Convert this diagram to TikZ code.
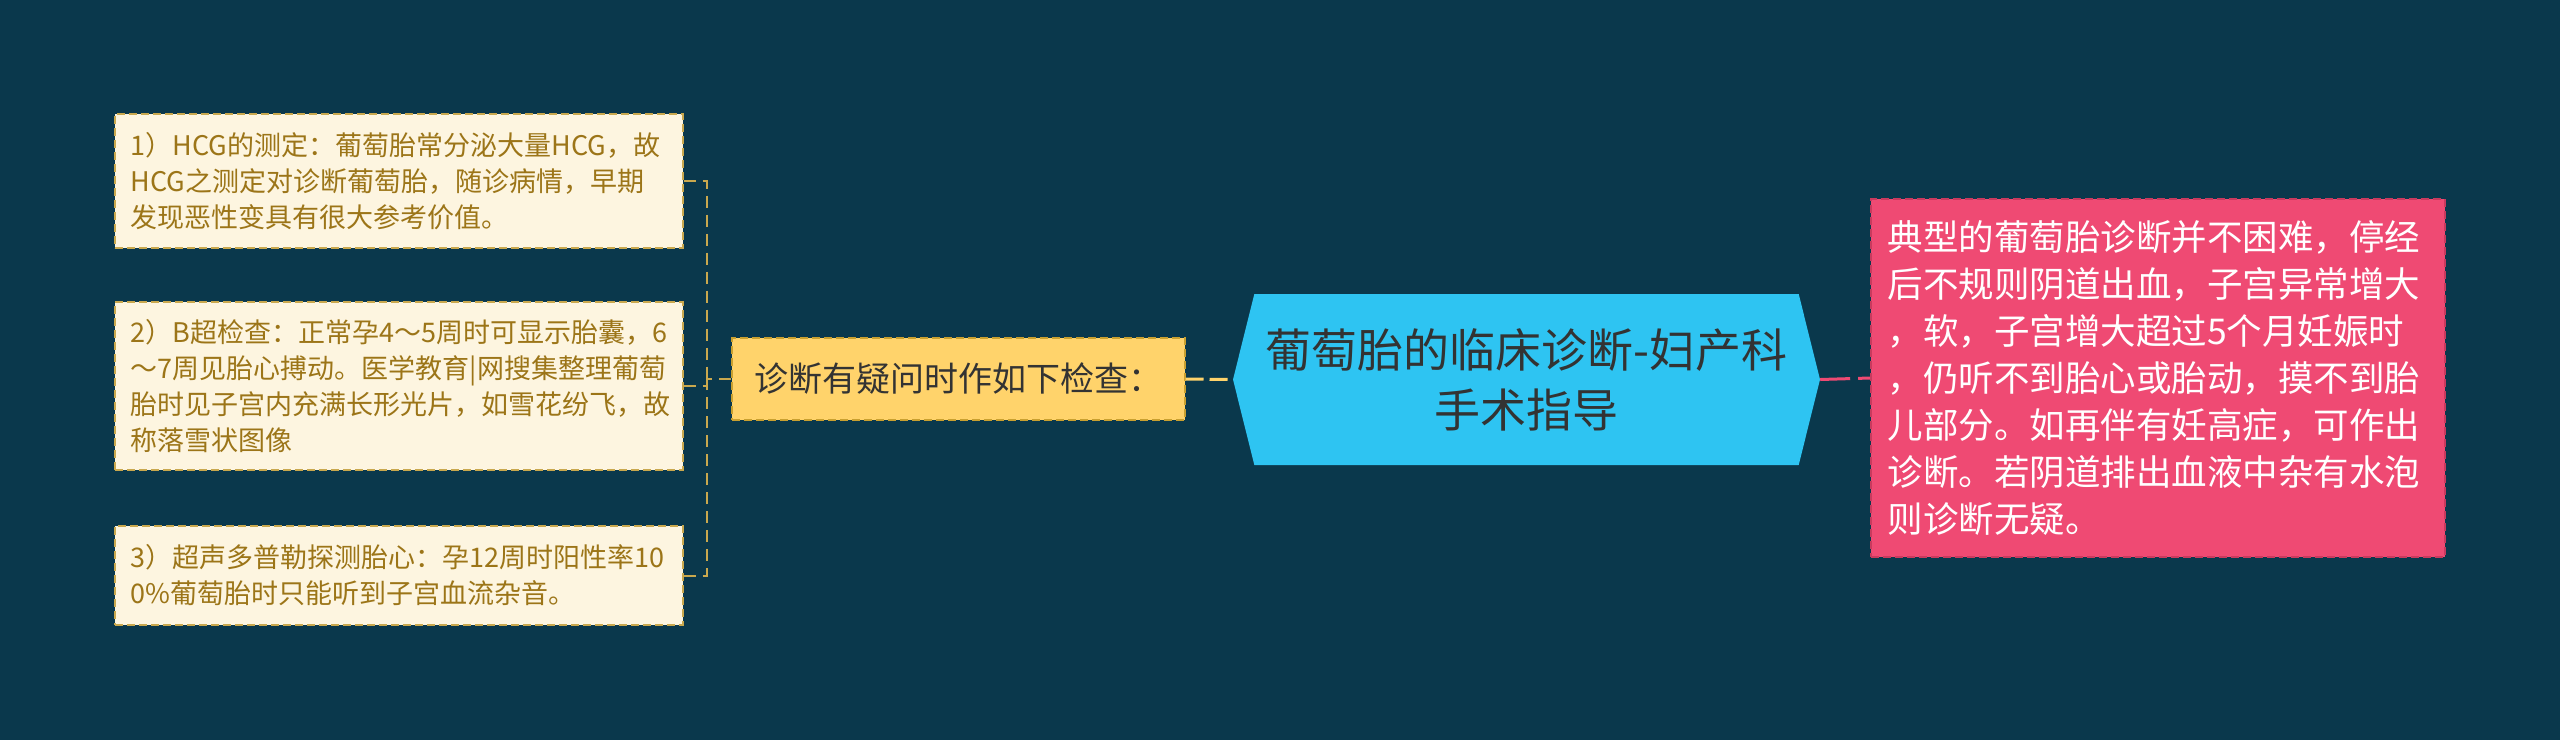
\documentclass[tikz,border=0pt]{standalone}
\usepackage{fontspec}
\setmainfont{Noto Sans CJK SC}
\usetikzlibrary{shapes.symbols}

\definecolor{bgteal}{HTML}{0A384C}
\definecolor{leaffill}{HTML}{FDF5E0}
\definecolor{leafline}{HTML}{C9A84E}
\definecolor{leaftext}{HTML}{9C7518}
\definecolor{askfill}{HTML}{FFD36B}
\definecolor{askline}{HTML}{C9A030}
\definecolor{rootfill}{HTML}{2EC4F2}
\definecolor{tipfill}{HTML}{EF4A73}
\definecolor{tipline}{HTML}{C93A5E}
\definecolor{darktext}{HTML}{333333}

\tikzset{
  leaf/.style={draw=leafline, fill=leaffill, text=leaftext, line width=1.5pt,
    dash pattern=on 8pt off 4pt, anchor=west, align=left,
    inner xsep=16pt, inner ysep=8pt, text width=536pt,
    font=\fontsize{27}{36}\selectfont},
  ask/.style={draw=askline, fill=askfill, text=darktext, line width=1.5pt,
    dash pattern=on 8pt off 4pt, anchor=west, inner sep=6pt,
    minimum width=453pt, minimum height=82pt,
    font=\fontsize{34}{44}\selectfont},
  rootbox/.style={signal, signal to=west and east, signal pointer angle=152,
    fill=rootfill, text=darktext, align=center, inner sep=8pt,
    minimum width=587pt, minimum height=171pt,
    font=\fontsize{46}{60}\selectfont},
  tipbox/.style={draw=tipline, fill=tipfill, text=white, line width=1.5pt,
    dash pattern=on 8pt off 4pt, anchor=west, align=left,
    inner xsep=17pt, inner ysep=10pt, text width=540pt, minimum height=358pt,
    font=\fontsize{35.5}{47}\selectfont},
  blink/.style={draw=leafline, line width=2pt, dash pattern=on 12pt off 7pt},
  ylink/.style={draw=askfill, line width=3pt, dash pattern=on 18pt off 6pt},
  plink/.style={draw=tipfill, line width=3pt, dash pattern=on 30pt off 8pt},
}

\begin{document}
\begin{tikzpicture}[x=1pt,y=-1pt]
  \fill[bgteal] (0,0) rectangle (2560,740);
  \useasboundingbox (0,0) rectangle (2560,740);

  % centre topic
  \path (1526.5,379.5) node[rootbox] (root) {葡萄胎的临床诊断-妇产科\\手术指导};

  % left branch
  \path (731,379) node[ask] (ask) {诊断有疑问时作如下检查：};
  \path (114,181) node[leaf, minimum height=134pt] (hcg)
    {1）HCG的测定：葡萄胎常分泌大量HCG，故\\HCG之测定对诊断葡萄胎，随诊病情，早期\\发现恶性变具有很大参考价值。};
  \path (114,386) node[leaf, minimum height=168pt] (bscan)
    {2）B超检查：正常孕4～5周时可显示胎囊，6\\～7周见胎心搏动。医学教育|网搜集整理葡萄\\胎时见子宫内充满长形光片，如雪花纷飞，故\\称落雪状图像};
  \path (114,575.5) node[leaf, minimum height=99pt] (doppler)
    {3）超声多普勒探测胎心：孕12周时阳性率10\\0\%葡萄胎时只能听到子宫血流杂音。};

  % right branch
  \path (1870,378) node[tipbox] (tip)
    {典型的葡萄胎诊断并不困难，停经\\后不规则阴道出血，子宫异常增大\\，软，子宫增大超过5个月妊娠时\\，仍听不到胎心或胎动，摸不到胎\\儿部分。如再伴有妊高症，可作出\\诊断。若阴道排出血液中杂有水泡\\则诊断无疑。};

  % connectors
  \coordinate (fork) at (707,379);
  \draw[blink] (ask.west) -- (fork);
  \draw[blink] (hcg.east) -| (fork);
  \draw[blink] (bscan.east) -| (fork);
  \draw[blink] (doppler.east) -| (fork);
  \draw[ylink] (ask.east) -- (root.west);
  \draw[plink] (root.east) -- (tip.west);
\end{tikzpicture}
\end{document}
